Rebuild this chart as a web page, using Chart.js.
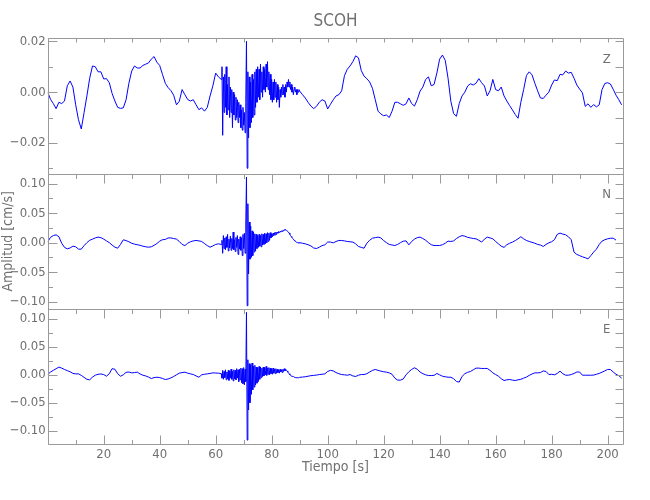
<!DOCTYPE html>
<html>
<head>
<meta charset="utf-8">
<title>SCOH</title>
<script src="https://cdn.jsdelivr.net/npm/chart.js@4.4.1/dist/chart.umd.min.js"></script>
<style>
  html, body { margin: 0; padding: 0; background: #fff; }
</style>
</head>
<body>
<canvas id="seismo" width="650" height="500"></canvas>
<script>
// Amplitudes in units of 1e-3 cm/s.
// Samples every 1 s, except the burst (62-90 s) which is read every 0.25 s.
const UNIT = 0.001;
const burstStart = 62, burstEnd = 90, burstStep = 0.25, lastSecond = 205;

const zPre = [
  0, -2.8, -4.5, -6.5, -4, -4.5, -3.5, 2.5, 4.4, 2,
  -5, -10.9, -14.5, -8, -1.5, 5.5, 10.3, 10, 8, 8,
  5.2, 5.3, 3.7, -0.5, -3.5, -6, -6.4, -6.2, -3, 3.5,
  8.3, 10.3, 9.5, 9.5, 10.5, 11, 11.5, 13, 14, 11.8,
  10.5, 7, 3.5, 1.8, 0.6, -1.2, -5, -3.6, 1, -1,
  -2.9, -3.5, -3, -5, -6.9, -6.2, -7.5, -6, -1.5, 2.5,
  7.5, 6
];
const zBurst = [
  5, 10, -17, 6,   -8, 7, -6, 10,    -9, 3, -7, 6,     -10, 2, -8, 1,
  -14, 0, -9, -1,  -11, -2, -10, -3, -12, -4, -10, -5, -14, -7, -15, -6,
  -13, -8, -16, -4, 20, -30, 8, -18, 6, -14, 4, -12,   7, -10, 5, -9,
  8, -6, 9, -4,    10, -2, 9, -3,    11, 0, 8, -2,     10, 1, 9, 0,
  11, 2, 12, 1,    8, -1, 7, -3,     5, -4, 4, -3,     5, -2, 4, -4,
  3, -3, 2, -6,    1, -2, 2, -1,     3, -1, 2, -2,     3, 0, 4, 2,
  5, 2, 4, 1,      3, 0, 2, -1,      1, 2, 0, 1,       -1, 1, 0, 1
];
const zPost = [
  0.4, -1, -2.3, -4, -5.5, -6.5, -5.6, -4, -3, -3.5,
  -6.6, -4.8, -3, -1.5, -1, 0.5, 6.5, 9, 10.3, 12,
  14.3, 13.5, 8.5, 6.3, 5.3, 4, 1.5, -3, -7.5, -8.6,
  -9.3, -9, -10, -7.5, -4, -4, -4.6, -5.2, -4.6, -2.3,
  -4.5, -5.5, -3, 0.4, 2, 5, 6, 2.5, 3, 7.5,
  13, 14.6, 12.5, 5.5, -3.6, -8.5, -9.5, -4.5, -1.5, 0,
  2.4, 3.3, 2.8, 3.5, 5.3, 3.7, 2.4, -1.5, 0.5, 5,
  1, 0.5, 2, -1.5, -3.5, -5.3, -7, -8.8, -10.3, -4,
  1, 6.5, 8, 6.8, 3.5, 0.5, -2.3, -2.5, -1.2, 0,
  2.8, 4.8, 4.5, 7, 6.8, 8.3, 7.5, 7.8, 5.5, 2.8,
  1.2, -0.3, -5.6, -4.6, -6, -4.9, -5.8, -5, 1, 3.4,
  3.7, 3.2, 1.1, -1.2, -3, -5
];

const nPre = [
  1, 9, 12, 13.3, 10, -1, -8, -10.5, -9, -6,
  -7, -11, -11, -5, 0, 4, 6, 8, 9.4, 8.5,
  6, 3, 0, -4, -7.7, -9.4, -3, 4.8, 3.5, 1.5,
  -1, -2.5, -3.5, -4.5, -6, -7, -7.7, -7, -4.5, -1.5,
  2.5, 5, 5.4, 8, 8, 7, 6, 2, -3, -5,
  -1, 1.5, 3, 3.7, 3, 2, -1.5, -5, -7.7, -5.5,
  -3, -2
];
const nBurst = [
  -3, 4, -18, 12,   -10, 8, -12, 10,  -8, 14, -14, 6,   -9, 11, -13, 7,
  -10, 18, -12, 5,  -15, 9, -8, 12,   -20, 6, -11, 10,  -13, 8, -22, 14,
  -10, 16, -18, 30, 111, -107, 66, -53, 35, -28, 28, -25, 20, -22, 18, -16,
  15, -14, 14, -10, 12, -8, 14, -6,   12, -7, 15, -4,   14, -3, 16, -2,
  15, 0, 17, 2,     16, 4, 17, 8,     15, 10, 16, 12,   17, 13, 18, 14,
  18, 16, 19, 17,   19, 18, 20, 19,   21, 20, 22, 21,   22, 21, 20, 20,
  18, 16, 14, 12,   10, 9, 7, 6,      4, 3, 2, 1,       1, 0, 0, -1
];
const nPost = [
  0, -1, -2, -3.5, -5.5, -9, -10, -7.7, -5, -3.7,
  1, 1, -0.3, 2, 3.7, 3.7, 3, 2, 1.5, 1,
  -2, -6.5, -8, -9.4, -1, 4, 7.5, 8.5, 9.4, 8,
  3.5, 0, -3, -4, -4.8, -3, 0, 2.5, 3, -3.7,
  2, 6, 8.5, 9.4, 7, 4, 0, -3.5, -4.8, -4.8,
  -4.8, -3.5, -1, 2.6, 2, 3, 7, 10, 12, 11,
  9, 8, 7, 6.5, 4, 1, 6, 9.4, 8, 6.5,
  2, -2, -6, -8, -3.5, -1, 0.9, 3.5, 6.5, 10,
  6.5, 3.7, 2, 0.5, -1, -3, -4, -6.5, -3, -0.3,
  1.5, 5, 14, 16.2, 14.5, 13.3, 10, 5, -16.2, -20,
  -22, -24, -25.5, -27.5, -22, -16, -11, -3, 2.5, 5,
  6.5, 7.5, 7.5, 4.3, null, null
];

const ePre = [
  0.5, 5, 8, 11, 13.8, 12, 9.6, 7.5, 5.4, 2.5,
  1.7, 1.7, -1, -4.5, -8, -9, -4, -0.7, 1, 1.5,
  0.5, -2.5, 2, 11, 10, 2, -2.5, 0, 4.5, 5,
  3.5, 4, 4.8, 1.5, -0.7, -2, -4, -6.6, -5, -4.3,
  -5, -6.5, -8.4, -7.5, -5.5, -3, 0, 3, 4, 4.8,
  3, 1.7, 0.5, -2, -4.3, 0, 1, 1.7, 2.5, 3.5,
  3.2, 3
];
const eBurst = [
  2, -6, 8, -8,     6, -5, 9, -9,     5, -7, 8, -10,    7, -6, 10, -8,
  6, -11, 9, -7,    8, -9, 11, -6,    9, -12, 10, -9,   12, -14, 11, -16,
  13, -18, 10, -12, 112, -117, 27, -63, 20, -50, 18, -35, 21, -27, 15, -22,
  17, -18, 14, -15, 13, -12, 15, -8,  14, -5, 12, -3,   14, -2, 13, 0,
  15, -1, 12, 1,    13, 0, 12, 2,     11, 1, 12, 3,     10, 2, 11, 3,
  10, 4, 9, 3,      10, 5, 9, 4,      10, 6, 11, 7,     10, 8, 7, 5,
  3, 2, 0, -1,      -2, -2.5, -3, -3, -4, -4.5, -5, -5, -5.5, -5, -5.5, -5.5
];
const ePost = [
  -4.5, -4, -3.5, -2.5, -1.5, -1, -0.5, 0.5, 1, 1.7,
  6, 8, 7, 4, 2, 0.5, 0, -0.7, 0.5, -2,
  -3, -0.7, 0.5, 0.5, 2, 5, 8, 9.6, 8, 6.6,
  5.5, 4.8, 3.5, 1, -6, -9.5, -9.5, -7.5, 0, 5.5,
  9.6, 12.6, 10, 5, 2, 0, -1.3, -1.3, -1, 2.4,
  0, -2.5, -3.5, -4.3, -4.3, -7, -12, -13, -3, 2,
  4.5, 6, 9, 12, 12, 11.4, 11.4, 11.4, 8, 3.5,
  0.5, -2.5, -7, -10.2, -9, -8.4, -9.5, -10.2, -9, -8,
  -6, -4, -1, 1.5, 3.5, 3.5, 4, 7, 6, 0.5,
  1, 0, 2.5, 6.6, 2, -0.7, -0.7, 0.5, 2.4, 5,
  5, -0.7, -0.7, -0.7, -0.7, -0.5, 1, 2.5, 4.8, 7,
  9.6, 9.6, 5, 1, -1.5, -6
];

// sample times matching the arrays above
const times = [];
for (let t = 0; t < burstStart; t++) times.push(t);
for (let t = burstStart; t < burstEnd; t += burstStep) times.push(t);
for (let t = burstEnd; t <= lastSecond; t++) times.push(t);

const FONT = "'Liberation Sans Narrow', 'DejaVu Sans Condensed', 'Liberation Sans', sans-serif";
const TEXT = '#707070';
const FRAME = '#9a9a9a';
const LINE = '#0000ff';

const panels = [
  { id: 'z', letter: 'Z', values: zPre.concat(zBurst, zPost), min: -0.0321, max: 0.0212, minor: 0.01, major: 0.02 },
  { id: 'n', letter: 'N', values: nPre.concat(nBurst, nPost), min: -0.1124, max: 0.117, minor: 0.025, major: 0.05 },
  { id: 'e', letter: 'E', values: ePre.concat(eBurst, ePost), min: -0.1245, max: 0.118, minor: 0.025, major: 0.05 }
];

function isMultiple(v, step) {
  return Math.abs(Math.round(v / step) * step - v) < 1e-9;
}
function amplitudeLabel(v, step) {
  if (!isMultiple(v, step)) return '';
  if (Math.abs(v) < 1e-9) return '0.00';
  return (v < 0 ? '\u2212' : '') + Math.abs(v).toFixed(2);
}

const scales = {
  x: {
    type: 'linear',
    min: 0,
    max: 205.6,
    grid: { display: false, drawTicks: false },
    border: { display: false },
    ticks: {
      stepSize: 10,
      includeBounds: false,
      autoSkip: false,
      maxRotation: 0,
      padding: 3,
      color: TEXT,
      font: { family: FONT, size: 13 },
      callback: v => (v > 0 && isMultiple(v, 20)) ? String(Math.round(v)) : ''
    },
    title: {
      display: true,
      text: 'Tiempo [s]',
      color: TEXT,
      font: { family: FONT, size: 14 },
      padding: { top: 0, bottom: 24 }
    },
    afterFit: s => { s.height = 55.7; }
  }
};
// stacked left axes: the higher weight is placed on top
panels.forEach((p, i) => {
  scales[p.id] = {
    type: 'linear',
    position: 'left',
    stack: 'traces',
    stackWeight: 1,
    weight: panels.length - i,
    min: p.min,
    max: p.max,
    grid: { display: false, drawTicks: false },
    border: { display: false },
    ticks: {
      stepSize: p.minor,
      includeBounds: false,
      autoSkip: false,
      padding: 2,
      color: TEXT,
      font: { family: FONT, size: 13 },
      callback: v => amplitudeLabel(v, p.major)
    },
    title: {
      display: p.id === 'n',
      text: 'Amplitud [cm/s]',
      color: TEXT,
      font: { family: FONT, size: 14 },
      padding: { top: 0, bottom: 0 }
    },
    afterFit: s => { s.width = 47.7; }
  };
});

// IDL-style frame: inward tick marks, panel separators and component letters
const panelFrame = {
  id: 'panelFrame',
  afterDraw(chart) {
    const { ctx, chartArea: area } = chart;
    const xs = chart.scales.x;
    const px = v => Math.round(v) + 0.5;
    const left = px(area.left), right = px(area.right);
    ctx.save();
    ctx.strokeStyle = FRAME;
    ctx.lineWidth = 1;
    ctx.beginPath();
    ctx.moveTo(left, px(area.top)); ctx.lineTo(left, px(area.bottom));
    ctx.moveTo(right, px(area.top)); ctx.lineTo(right, px(area.bottom));
    ctx.moveTo(left, px(area.bottom)); ctx.lineTo(right, px(area.bottom));
    panels.forEach((p, i) => {
      const s = chart.scales[p.id];
      const top = px(s.top);
      ctx.moveTo(left, top); ctx.lineTo(right, top);
      xs.ticks.forEach(t => {
        const x = px(xs.getPixelForValue(t.value));
        const len = i === 0 ? 4 : (isMultiple(t.value, 20) ? 9 : 4.5);
        ctx.moveTo(x, top); ctx.lineTo(x, top + len);
      });
      s.ticks.forEach(t => {
        const y = px(s.getPixelForValue(t.value));
        ctx.moveTo(left, y); ctx.lineTo(left + (t.label ? 9 : 4.5), y);
        ctx.moveTo(right, y); ctx.lineTo(right - 8, y);
      });
    });
    const bottom = px(area.bottom);
    xs.ticks.forEach(t => {
      const x = px(xs.getPixelForValue(t.value));
      ctx.moveTo(x, bottom); ctx.lineTo(x, bottom - (isMultiple(t.value, 20) ? 9 : 4.5));
    });
    ctx.stroke();
    ctx.fillStyle = TEXT;
    ctx.font = '13px ' + FONT;
    ctx.textAlign = 'center';
    ctx.textBaseline = 'middle';
    panels.forEach(p => {
      ctx.fillText(p.letter, area.right - 16.6, chart.scales[p.id].top + 21);
    });
    ctx.restore();
  }
};

new Chart(document.getElementById('seismo'), {
  type: 'line',
  data: {
    datasets: panels.map(p => ({
      label: p.letter,
      yAxisID: p.id,
      data: times.map((t, i) => ({ x: t, y: p.values[i] == null ? null : p.values[i] * UNIT })),
      borderColor: LINE,
      borderWidth: 1,
      pointRadius: 0,
      tension: 0,
      spanGaps: false
    }))
  },
  options: {
    responsive: false,
    animation: false,
    devicePixelRatio: 1,
    layout: { padding: { left: 0, right: 26.7, top: 0, bottom: 0 } },
    scales: scales,
    plugins: {
      legend: { display: false },
      tooltip: { enabled: false },
      title: {
        display: true,
        text: 'SCOH',
        fullSize: false,
        color: TEXT,
        font: { family: FONT, size: 17, weight: 'normal' },
        padding: { top: 11.5, bottom: 6.4 }
      }
    }
  },
  plugins: [panelFrame]
});
</script>
</body>
</html>
